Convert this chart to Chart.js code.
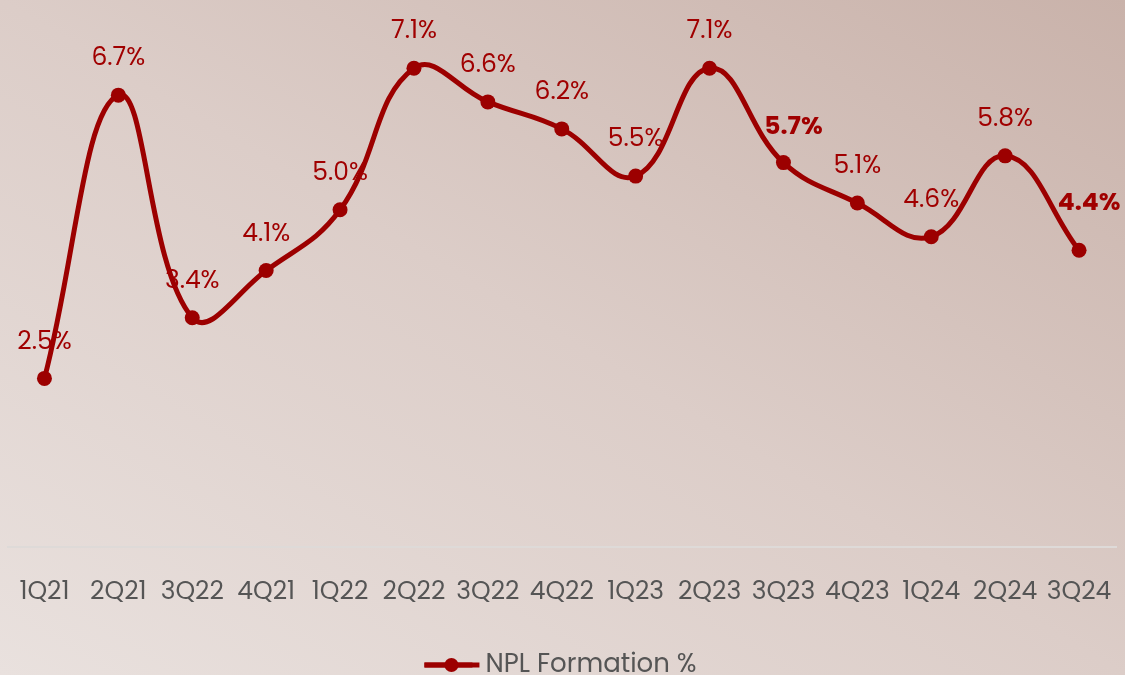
<!DOCTYPE html>
<html>
<head>
<meta charset="utf-8">
<script src="https://cdn.jsdelivr.net/npm/chart.js@4.4.1/dist/chart.umd.min.js"></script>
<style>
  html, body { margin: 0; padding: 0; width: 1125px; height: 675px; overflow: hidden; }
  body { background: linear-gradient(to top right, #e9e1de 0%, #dccdc8 50%, #c9b2aa 100%); }
  #wrap { position: absolute; left: 0; top: 0; width: 1125px; height: 688px; }
</style>
</head>
<body>
<div id="wrap"><canvas id="c"></canvas></div>
<script>
const categories = ['1Q21','2Q21','3Q22','4Q21','1Q22','2Q22','3Q22','4Q22','1Q23','2Q23','3Q23','4Q23','1Q24','2Q24','3Q24'];
const nplFormation = [2.5, 6.7, 3.4, 4.1, 5.0, 7.1, 6.6, 6.2, 5.5, 7.1, 5.7, 5.1, 4.6, 5.8, 4.4];
const boldLabels = [false,false,false,false,false,false,false,false,false,false,true,false,false,false,true];
const seriesName = 'NPL Formation %';

const RED = '#9c0000';
const FONT = "Poppins, 'Open Sans', sans-serif";

const labelPlugin = {
  id: 'valueLabels',
  afterDatasetsDraw(chart) {
    const ctx = chart.ctx;
    const meta = chart.getDatasetMeta(0);
    ctx.save();
    ctx.textAlign = 'center';
    ctx.textBaseline = 'middle';
    meta.data.forEach((pt, i) => {
      const v = nplFormation[i];
      const bold = boldLabels[i];
      ctx.font = (bold ? 'bold ' : '') + '25px ' + FONT;
      ctx.fillStyle = '#a00000';
      const dx = bold ? 10 : 0;
      const dy = bold ? (i === nplFormation.length - 1 ? 47 : 35) : 36;
      ctx.fillText(v.toFixed(1) + '%', pt.x + dx, pt.y - dy);
    });
    ctx.restore();
  },
  afterDraw(chart) {
    // legend marker: line with a dot
    const lg = chart.legend;
    if (!lg || !lg.legendHitBoxes || !lg.legendHitBoxes.length) return;
    const hb = lg.legendHitBoxes[0];
    const cy = hb.top + hb.height / 2;
    const ctx = chart.ctx;
    ctx.save();
    ctx.strokeStyle = RED;
    ctx.lineWidth = 5;
    ctx.beginPath();
    ctx.moveTo(hb.left, cy);
    ctx.lineTo(hb.left + 55, cy);
    ctx.stroke();
    ctx.fillStyle = RED;
    ctx.beginPath();
    ctx.arc(hb.left + 27, cy, 7, 0, Math.PI * 2);
    ctx.fill();
    ctx.restore();
  }
};

new Chart(document.getElementById('c'), {
  type: 'line',
  data: {
    labels: categories,
    datasets: [{
      label: seriesName,
      data: nplFormation,
      borderColor: RED,
      backgroundColor: RED,
      borderWidth: 5,
      pointRadius: 7.5,
      pointBackgroundColor: RED,
      pointBorderWidth: 0,
      tension: 0.42,
      fill: false
    }]
  },
  options: {
    responsive: true,
    maintainAspectRatio: false,
    animation: false,
    layout: { padding: { left: 5, right: 9, top: 0, bottom: 0 } },
    scales: {
      x: {
        offset: true,
        grid: { display: true, color: 'rgba(0,0,0,0)', drawTicks: false },
        border: { display: true, color: '#dedad8', width: 2 },
        ticks: { color: '#555555', font: { family: FONT, size: 25, lineHeight: 3.44 }, padding: 3, maxRotation: 0, autoSkip: false }
      },
      y: {
        display: false,
        min: 0,
        max: 8
      }
    },
    plugins: {
      legend: {
        position: 'bottom',
        labels: {
          color: '#555555',
          font: { family: FONT, size: 26 },
          boxWidth: 48,
          boxHeight: 0,
          padding: 13
        }
      },
      tooltip: { enabled: false }
    }
  },
  plugins: [labelPlugin]
});
</script>
</body>
</html>
